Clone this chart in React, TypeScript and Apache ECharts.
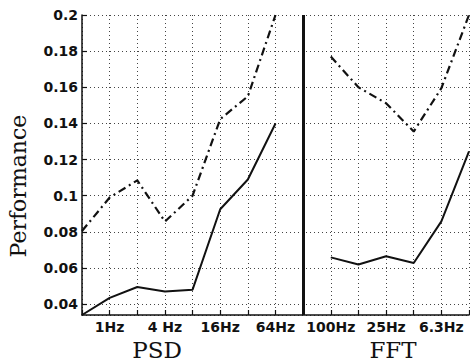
import React, { useEffect, useRef } from "react";
import * as echarts from "echarts";

// Tick categories (frequency bands); the 9th slot is the PSD | FFT divider
const categories = ["0.5Hz", "1Hz", "2Hz", "4 Hz", "8Hz", "16Hz", "32Hz", "64Hz", "|", "100Hz", "50Hz", "25Hz", "12.5Hz", "6.3Hz", "3.1Hz"];
const dividerIndex = 8;

// PSD group values
const psdSolid = [0.034, 0.0435, 0.0495, 0.047, 0.048, 0.0925, 0.109, 0.140];
const psdDashDot = [0.0805, 0.099, 0.1085, 0.0857, 0.100, 0.1424, 0.155, 0.2];

// FFT group values
const fftSolid = [0.0659, 0.0619, 0.0665, 0.0628, 0.0858, 0.1245];
const fftDashDot = [0.177, 0.160, 0.1512, 0.1355, 0.1595, 0.2];

const yMin = 0.034;
const yMax = 0.2;

export default function App() {
  const ref = useRef<HTMLDivElement>(null);
  useEffect(() => {
    if (!ref.current) return;
    const chart = echarts.init(ref.current, null, { renderer: "svg" });
    const solidData = [...psdSolid, null, ...fftSolid];
    const dashData = [...psdDashDot, null, ...fftDashDot];
    chart.setOption({
      animation: false,
      backgroundColor: "#ffffff",
      grid: { left: 82, right: 1, top: 15, bottom: 47, containLabel: false },
      xAxis: {
        type: "category",
        data: categories,
        boundaryGap: false,
        axisLine: { show: true, lineStyle: { color: "#111", width: 1.5 } },
        axisTick: { show: true, inside: true, length: 5, interval: 0, lineStyle: { color: "#111", width: 1.2 } },
        axisLabel: {
          interval: (index: number) => index % 2 === 1,
          color: "#111",
          fontFamily: "DejaVu Sans",
          fontWeight: "bold",
          fontSize: 14,
          lineHeight: 14,
          margin: 5,
        },
        splitLine: { show: true, interval: 0, lineStyle: { color: "#444", width: 1, type: [1, 3] } },
      },
      yAxis: {
        type: "value",
        min: yMin,
        max: yMax,
        splitNumber: 8,
        axisLine: { show: true, lineStyle: { color: "#111", width: 1.5 } },
        axisTick: { show: true, inside: true, length: 5, lineStyle: { color: "#111", width: 1.2 } },
        axisLabel: {
          showMinLabel: false,
          color: "#111",
          fontFamily: "DejaVu Sans",
          fontWeight: "bold",
          fontSize: 14,
          margin: 4,
        },
        splitLine: { show: true, lineStyle: { color: "#444", width: 1, type: [1, 3] } },
      },
      series: [
        {
          type: "line",
          data: solidData,
          showSymbol: false,
          symbol: "none",
          connectNulls: false,
          lineStyle: { color: "#111", width: 2 },
          markLine: {
            silent: true,
            symbol: "none",
            label: { show: false },
            lineStyle: { color: "#111", width: 3, type: "solid" },
            data: [{ xAxis: dividerIndex }],
          },
        },
        {
          type: "line",
          data: dashData,
          showSymbol: false,
          symbol: "none",
          connectNulls: false,
          lineStyle: { color: "#111", width: 2.2, type: [8, 4, 2, 4] },
        },
      ],
      graphic: [
        {
          type: "text",
          x: 18,
          y: 186,
          rotation: Math.PI / 2,
          style: {
            text: "Performance",
            fontFamily: "DejaVu Serif",
            fontSize: 22,
            fill: "#111",
            textAlign: "center",
            textVerticalAlign: "middle",
          },
        },
        {
          type: "text",
          x: 157,
          y: 350,
          style: {
            text: "PSD",
            fontFamily: "DejaVu Serif",
            fontSize: 23,
            lineHeight: 20,
            fill: "#111",
            textAlign: "center",
            textVerticalAlign: "middle",
          },
        },
        {
          type: "text",
          x: 393,
          y: 350,
          style: {
            text: "FFT",
            fontFamily: "DejaVu Serif",
            fontSize: 23,
            lineHeight: 20,
            fill: "#111",
            textAlign: "center",
            textVerticalAlign: "middle",
          },
        },
      ],
    });
    return () => chart.dispose();
  }, []);
  return <div ref={ref} style={{ width: 470, height: 362, position: "absolute", left: 0, top: 0 }} />;
}
